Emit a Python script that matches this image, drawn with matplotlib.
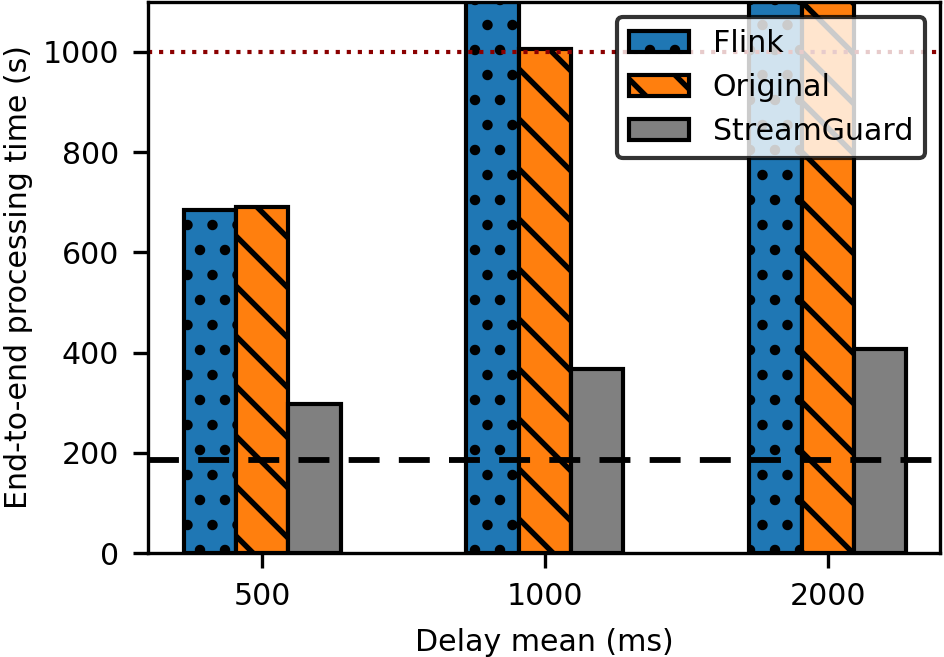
import numpy as np
import matplotlib
matplotlib.use("Agg")
import matplotlib.pyplot as plt

# delay mean values on x, processing times in seconds
delays = ["500", "1000", "2000"]
flink = [685, 1400, 1400]       # clipped above the axis top
original = [690, 1005, 1400]
streamguard = [298, 367, 407]
baseline = 186    # dashed reference
timeout = 1000    # dotted red limit

plt.rcParams["font.size"] = 7.2
plt.rcParams["hatch.linewidth"] = 1.3

fig = plt.figure(figsize=(944 / 300, 657 / 300), dpi=300)
ax = fig.add_axes([0.157, 0.158, 0.8388, 0.8395])

x = np.arange(len(delays))
w = 0.185
ax.bar(x - w, flink, w, color="#1f77b4", edgecolor="black", hatch="..", label="Flink", linewidth=1.0)
ax.bar(x, original, w, color="#ff7f0e", edgecolor="black", hatch="\\\\", label="Original", linewidth=1.0)
ax.bar(x + w, streamguard, w, color="gray", edgecolor="black", label="StreamGuard", linewidth=1.0)

ax.axhline(baseline, color="black", lw=1.4, dashes=(5.3, 3.3))
ax.axhline(timeout, color="darkred", lw=1.0, dashes=(1, 1.65))

ax.set_xticks(x)
ax.set_xticklabels(delays)
ax.set_xlim(-0.403, 2.397)
ax.set_ylim(0, 1100)
ax.set_xlabel("Delay mean (ms)")
ax.set_ylabel("End-to-end processing time (s)")
ax.yaxis.set_label_coords(-0.146, 0.5)

leg = ax.legend(loc="upper right", edgecolor="black", fancybox=True)

fig.savefig("out.png", dpi=300)
